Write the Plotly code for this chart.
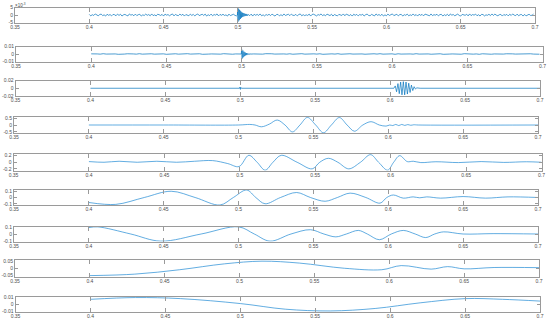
import plotly.graph_objects as go

# ---------------- data ----------------
X_TICKS = [0.35, 0.4, 0.45, 0.5, 0.55, 0.6, 0.65, 0.7]
X_TICK_TEXT = ["0.35", "0.4", "0.45", "0.5", "0.55", "0.6", "0.65", "0.7"]

NOISE_T0 = 0.4
# panel 1 background noise (x1e-4), sampled every 0.001
NOISE1_DT = 0.001
noise1 = [4,-6,2,-3,7,-1,-5,3,6,-4,1,-7,5,-2,3,-6,4,2,-5,6,
          -3,5,-7,1,4,-2,-6,7,-1,3,-5,6,-4,2,5,-7,1,-3,6,-2,
          3,-5,7,-4,1,-6,5,2,-3,4,-7,6,-1,3,-5,2,7,-6,4,-2,
          -4,6,-2,5,-7,3,1,-5,6,-3,4,-6,2,7,-4,-1,5,-3,6,-7,
          2,-4,6,-5,3,-1,7,-6,4,-2,5,-3,1,-7,6,-4,3,5,-2,-6,
          7,-3,4,-5,2,-6,1,3,-4,6,-7,5,-2,4,-3,7,-5,1,-6,3,
          -2,5,-4,6,-1,-7,3,4,-6,2,-5,7,-3,1,5,-4,6,-2,-3,4,
          -6,3,7,-5,2,-4,1,-3,6,-7,4,5,-2,-6,3,-1,7,-4,2,-5,
          6,-2,-4,5,-7,3,1,-6,4,2,-3,7,-5,6,-1,-4,3,-7,5,-2,
          4,-6,3,-1,5,-7,2,6,-3,-5,4,1,-6,7,-2,3,-4,5,-7,1,
          -5,6,-3,2,7,-4,-1,5,-6,3,4,-7,2,-2,6,-5,1,-3,7,-4,
          3,-7,5,-2,4,-6,6,1,-3,-5,7,-4,2,-1,5,-6,3,4,-7,2,
          -4,5,-6,7,-1,3,-5,2,6,-3,-7,4,1,-2,5,-6,7,-4,3,-1,
          6,-5,2,-7,4,3,-6,1,-2,5,-4,7,-3,6,-1,-5,2,4,-7,3,
          -2,4,-6,5,-3,7,-1,-4,6,-5,2,3,-7,4,-6,1,5,-3,-2,6]
BURST1_T0, BURST1_DT = 0.4997, 0.0002
burst1 = [0,45,-44,42,-40,38,-35,33,-30,28,-26,24,-22,20,-18,17,-15,14,-13,12,
          -11,10,-9,9,-8,7,-7,6,-6,5,-5,5,-4,4,-4,3]

# panel 2 background noise (x1e-4), sampled every 0.002
NOISE2_DT = 0.002
noise2 = [2,-3,1,-2,4,-1,3,-2,1,-4,2,-1,3,-3,1,-2,4,-2,2,-1,
          3,-2,1,-3,2,-4,1,-1,3,-2,2,-3,4,-1,1,-2,3,-4,2,-1,
          1,-3,2,-2,4,-1,3,-3,1,-2,2,-4,3,-1,1,-3,2,-2,4,-1,
          3,-1,2,-4,1,-2,3,-3,2,-1,4,-2,1,-3,2,-1,3,-4,1,-2,
          2,-1,4,-3,1,-2,3,-1,2,-4,1,-3,2,-2,3,-1,4,-2,1,-3,
          2,-4,3,-1,2,-3,1,-2,4,-1,3,-2,1,-3,2,-1,3,-4,2,-1,
          1,-2,3,-3,4,-1,2,-2,1,-4,3,-1,2,-3,1,-2,4,-1,3,-2,
          2,-1,1,-3,4,-2,3,-1,2,-3]
BURST2_T0, BURST2_DT = 0.4998, 0.0002
burst2 = [0,68,-62,57,-52,47,-42,38,-34,30,-27,24,-21,19,-17,15,-13,12,-11,10,
          -9,8,-7,7,-6,5,-5,4,-4,3]

# panel 3
p3_t = [0.4, 0.4995, 0.4998, 0.5001, 0.5004, 0.5008, 0.6025,
        0.6034, 0.6043, 0.6052, 0.6061, 0.607, 0.6079, 0.6088, 0.6097, 0.6106,
        0.6115, 0.6124, 0.6133, 0.6142, 0.6151, 0.616, 0.6169, 0.6178, 0.62, 0.7]
p3_v = [0.0, 0.0, 0.003, -0.003, 0.002, 0.0, 0.0,
        0.006, -0.009, 0.012, -0.014, 0.016, -0.017, 0.017, -0.017, 0.016,
        -0.015, 0.013, -0.011, 0.008, -0.006, 0.004, -0.002, 0.001, 0.0, 0.0]

# panel 4
p4_t = [0.4, 0.45, 0.5, 0.5075, 0.511, 0.5153, 0.5205, 0.5258, 0.531, 0.536, 0.541,
        0.546, 0.5515, 0.5567, 0.562, 0.5673, 0.5725, 0.5774, 0.583, 0.5885, 0.594,
        0.5985, 0.601, 0.603, 0.605, 0.607, 0.609, 0.611, 0.613, 0.615, 0.617, 0.62, 0.7]
p4_v = [0.0, 0.0, 0.0, 0.04, 0.0, -0.13, 0.06, 0.36, 0.0, -0.5, 0.0,
        0.55, 0.0, -0.56, 0.0, 0.54, 0.0, -0.45, 0.0, 0.24, 0.0,
        -0.08, 0.0, -0.04, 0.04, -0.04, 0.04, -0.03, 0.03, -0.02, 0.015, 0.0, 0.0]

# panel 5
p5_t = [0.4, 0.41, 0.42, 0.432, 0.445, 0.458, 0.47, 0.482, 0.492, 0.4995, 0.506,
        0.5115, 0.5168, 0.522, 0.5275, 0.538, 0.548, 0.553, 0.5587, 0.565, 0.5722,
        0.58, 0.5867, 0.592, 0.598, 0.602, 0.606, 0.611, 0.615, 0.62, 0.63, 0.645,
        0.66, 0.675, 0.69, 0.7]
p5_v = [0.02, 0.0, 0.03, 0.0, 0.03, 0.0, 0.03, 0.05, -0.04, -0.13, 0.21,
        0.0, -0.24, 0.0, 0.21, 0.0, -0.2, 0.0, 0.12, 0.0, -0.2,
        0.0, 0.23, 0.0, -0.24, 0.0, 0.2, 0.02, 0.03, -0.01, 0.015, -0.01,
        0.02, -0.005, 0.015, 0.0]

# panel 6
p6_t = [0.4, 0.418, 0.437, 0.455, 0.471, 0.4876, 0.4965, 0.5054, 0.5115, 0.5177,
        0.528, 0.5388, 0.548, 0.5578, 0.566, 0.5745, 0.585, 0.5945, 0.599, 0.6034,
        0.61, 0.6166, 0.621, 0.6257, 0.635, 0.65, 0.665, 0.68, 0.7]
p6_v = [-0.08, -0.11, 0.0, 0.1, 0.0, -0.12, 0.0, 0.12, 0.0, -0.1,
        0.0, 0.08, 0.0, -0.06, 0.0, 0.07, 0.0, -0.09, 0.0, 0.04,
        -0.01, 0.01, -0.005, 0.01, -0.01, 0.015, -0.01, 0.01, 0.0]

# panel 7
p7_t = [0.4, 0.406, 0.428, 0.448, 0.475, 0.5, 0.5105, 0.521, 0.535, 0.548,
        0.557, 0.565, 0.572, 0.58, 0.586, 0.594, 0.602, 0.61, 0.618, 0.625,
        0.631, 0.637, 0.65, 0.67, 0.7]
p7_v = [0.09, 0.1, 0.0, -0.1, 0.0, 0.1, 0.0, -0.1, 0.0, 0.06,
        0.0, -0.04, 0.0, 0.05, 0.0, -0.08, 0.0, 0.05, 0.0, -0.05,
        0.0, 0.03, 0.0, 0.005, 0.0]

# panel 8
p8_t = [0.4, 0.43, 0.46, 0.49, 0.515, 0.54, 0.57, 0.595, 0.608, 0.628, 0.639,
        0.65, 0.67, 0.7]
p8_v = [-0.05, -0.04, -0.01, 0.03, 0.048, 0.035, 0.0, -0.01, 0.018, -0.006, 0.011,
        -0.004, 0.005, 0.004]

# panel 9
p9_t = [0.4, 0.43, 0.46, 0.5, 0.53, 0.56, 0.59, 0.62, 0.65, 0.675, 0.7]
p9_v = [0.007, 0.0095, 0.008, 0.001, -0.007, -0.0095, -0.006, 0.002, 0.008, 0.007, 0.0045]

Y_TICKS = [
    ([-0.005, 0, 0.005], ["-5", "0", "5"], 0.005),
    ([-0.01, 0, 0.01], ["-0.01", "0", "0.01"], 0.01),
    ([-0.02, 0, 0.02], ["-0.02", "0", "0.02"], 0.02),
    ([-0.5, 0, 0.5], ["-0.5", "0", "0.5"], 0.58),
    ([-0.2, 0, 0.2], ["-0.2", "0", "0.2"], 0.25),
    ([-0.1, 0, 0.1], ["-0.1", "0", "0.1"], 0.12),
    ([-0.1, 0, 0.1], ["-0.1", "0", "0.1"], 0.105),
    ([-0.05, 0, 0.05], ["-0.05", "0", "0.05"], 0.056),
    ([-0.01, 0, 0.01], ["-0.01", "0", "0.01"], 0.011),
]

# panel boxes in pixels: left, right, top, bottom
BOXES = [
    (15, 535, 7.5, 22.5),
    (16, 542.5, 46.5, 61.5),
    (15.5, 540, 80.5, 96),
    (14, 538, 117, 133),
    (13.5, 541.5, 154, 170.5),
    (14, 538, 190, 205),
    (14, 538, 226.5, 241.5),
    (15, 539, 260, 276.5),
    (15.5, 540, 296.5, 312),
]
W, H = 550, 322


def noise_burst(noise, dt, scale, b0, bdt, burst):
    nt = [NOISE_T0 + dt * i for i in range(len(noise))]
    bt = [b0 + bdt * i for i in range(len(burst))]
    t, v = [], []
    for ti, vi in zip(nt, noise):
        if ti < b0:
            t.append(ti); v.append(vi * scale)
    t += bt; v += [b * scale for b in burst]
    for ti, vi in zip(nt, noise):
        if ti > bt[-1]:
            t.append(ti); v.append(vi * scale)
    return t, v


series = [
    noise_burst(noise1, NOISE1_DT, 1e-4, BURST1_T0, BURST1_DT, burst1) + ("linear",),
    noise_burst(noise2, NOISE2_DT, 1e-4, BURST2_T0, BURST2_DT, burst2) + ("linear",),
    (p3_t, p3_v, "linear"),
    (p4_t, p4_v, "spline"),
    (p5_t, p5_v, "spline"),
    (p6_t, p6_v, "spline"),
    (p7_t, p7_v, "spline"),
    (p8_t, p8_v, "spline"),
    (p9_t, p9_v, "spline"),
]

AX_COLOR = "#9a9a9a"
FONT = dict(family="Liberation Sans, Arial, sans-serif", size=5, color="#4d4d4d")

fig = go.Figure()
layout = {}
for i, ((t, v, shape), (yt, ytt, yr), (l, r, tp, bt)) in enumerate(zip(series, Y_TICKS, BOXES), start=1):
    sfx = "" if i == 1 else str(i)
    color = "#0072BD" if i <= 3 else "#1f8ad4"
    fig.add_trace(go.Scatter(x=t, y=v, mode="lines",
                             line=dict(color=color, width=0.7, shape=shape),
                             xaxis="x" + sfx, yaxis="y" + sfx, showlegend=False,
                             hoverinfo="skip"))
    layout["xaxis" + sfx] = dict(
        domain=[l / W, r / W], anchor="y" + sfx, range=[0.35, 0.7],
        tickvals=X_TICKS, ticktext=X_TICK_TEXT, ticks="inside", ticklen=4,
        tickwidth=1, tickcolor=AX_COLOR, showline=True, linecolor=AX_COLOR,
        linewidth=1, mirror="ticks", showgrid=False, zeroline=False,
        tickfont=FONT, fixedrange=True, automargin=False,
        ticklabeloverflow="allow", ticklabelstandoff=-1)
    layout["yaxis" + sfx] = dict(
        domain=[1 - bt / H, 1 - tp / H], anchor="x" + sfx, range=[-yr, yr],
        tickvals=yt, ticktext=ytt, ticks="inside", ticklen=3, tickwidth=1,
        tickcolor=AX_COLOR, showline=True, linecolor=AX_COLOR, linewidth=1,
        mirror="ticks", showgrid=False, zeroline=False, tickfont=FONT,
        fixedrange=True, automargin=False, ticklabeloverflow="allow")

fig.update_layout(**layout)
fig.update_layout(
    width=W, height=H, margin=dict(l=0, r=0, t=0, b=0, autoexpand=False),
    paper_bgcolor="white", plot_bgcolor="white", showlegend=False,
    annotations=[dict(text="\u00d710<sup>-3</sup>", x=13 / W, y=1 - 0 / H,
                      xref="paper", yref="paper", xanchor="left", yanchor="top",
                      showarrow=False, font=dict(family=FONT["family"], size=4.5,
                                                 color="#4d4d4d"))],
)
fig.write_html("out.html", config={"displayModeBar": False, "staticPlot": True},
               post_script="document.body.style.margin='0';"
                           "document.body.style.overflow='hidden';")
